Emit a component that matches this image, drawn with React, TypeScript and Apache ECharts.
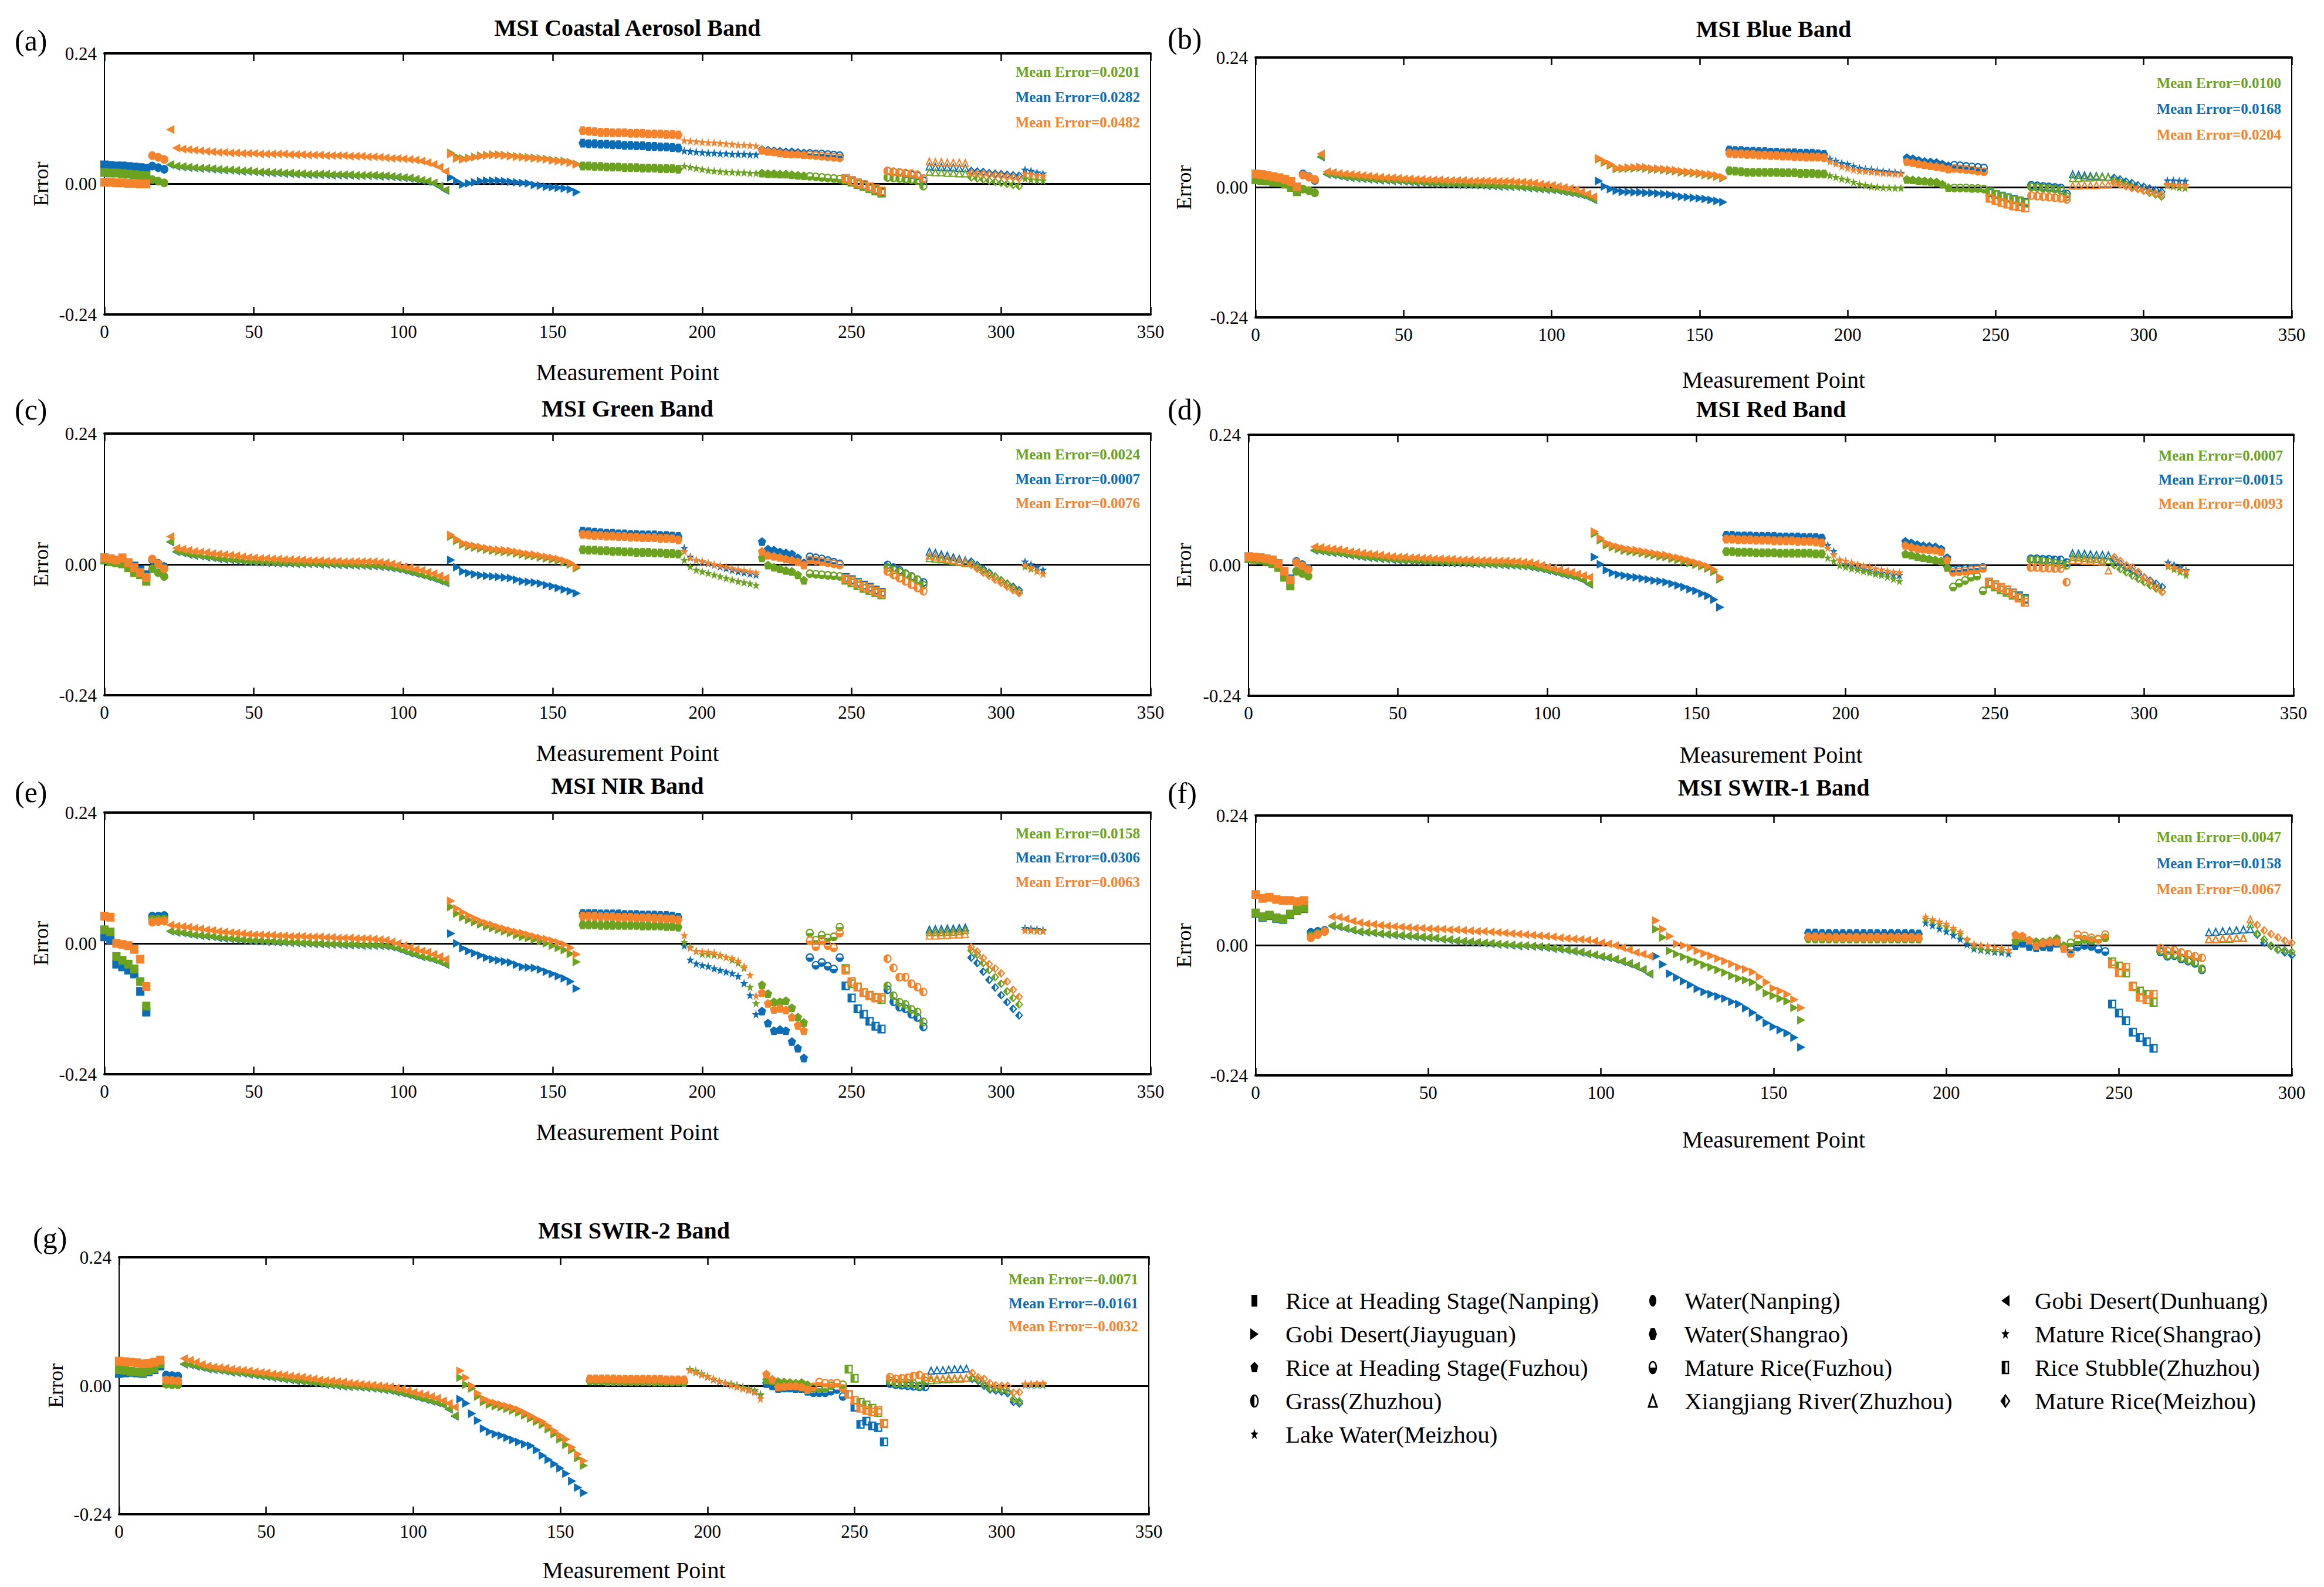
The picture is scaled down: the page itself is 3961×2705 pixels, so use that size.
import React, { useEffect, useRef } from "react";
import * as echarts from "echarts";

// ---------------- DATA (errors in units of 0.001, sampled every 2nd measurement point) ----------------
const X_STEP = 2;

const panelTitles = ["MSI Coastal Aerosol Band", "MSI Blue Band", "MSI Green Band", "MSI Red Band", "MSI NIR Band", "MSI SWIR-1 Band", "MSI SWIR-2 Band"];
const panelLetters = ["(a)", "(b)", "(c)", "(d)", "(e)", "(f)", "(g)"];
const xAxisMax = [350, 350, 350, 350, 350, 300, 350];
const xTickStep = 50;
const yLimit = 0.24;

const meanGreen = [0.0201, 0.0100, 0.0024, 0.0007, 0.0158, 0.0047, -0.0071];
const meanBlue = [0.0282, 0.0168, 0.0007, 0.0015, 0.0306, 0.0158, -0.0161];
const meanOrange = [0.0482, 0.0204, 0.0076, 0.0093, 0.0063, 0.0067, -0.0032];

const siteNames = [
  "Rice at Heading Stage(Nanping)", "Gobi Desert(Jiayuguan)", "Rice at Heading Stage(Fuzhou)", "Grass(Zhuzhou)", "Lake Water(Meizhou)",
  "Water(Nanping)", "Water(Shangrao)", "Mature Rice(Fuzhou)", "Xiangjiang River(Zhuzhou)",
  "Gobi Desert(Dunhuang)", "Mature Rice(Shangrao)", "Rice Stubble(Zhuzhou)", "Mature Rice(Meizhou)",
];
// first measurement point of each site's block, and the site it belongs to
const siteStarts = [0, 15, 22, 115, 159, 194, 220, 236, 248, 262, 275, 289, 307];
const siteOfBlock = [0, 5, 9, 1, 6, 10, 2, 7, 11, 3, 8, 12, 4];

const aGreen = [21,20,20,19,18,17,16,15, 8,5,2,
  36,33,32,31,30,29,29,28,27,26,26,25,24,24,23,22,22,21,21,20,20,19,19,18,18,18,18,17,17,17,17,16,16,16,16,15,15,14,13,12,11,9,7,5,2,-4,-11,
  57,50,47,48,50,52,53,54,54,53,52,51,50,49,48,47,46,44,43,42,40,37,
  33,33,32,32,31,31,31,30,30,30,29,29,29,28,28,28,27,
  33,31,29,27,25,24,23,22,22,21,21,20,20, 20,19,19,18,18,17,16,15, 14,13,12,11,10,9,
  7,3,-1,-5,-9,-13,-17, 12,11,10,9,8,6,-4, 23,22,22,21,21,20,20, 12,10,8,6,4,2,0,-2,-4, 10,8,7,6];
const aBlue = [35,34,33,33,32,31,30,29, 33,30,27,
  35,32,31,30,29,28,28,27,26,25,25,24,23,23,22,21,21,20,20,19,19,18,18,17,17,17,17,16,16,16,16,15,15,15,15,14,14,13,12,11,10,8,6,4,1,-5,-12,
  12,5,-1,1,3,5,6,6,6,5,4,3,2,1,-2,-3,-5,-6,-7,-8,-10,-15,
  75,74,74,73,73,72,72,71,71,70,70,69,69,68,68,67,66,
  61,60,59,58,57,57,56,56,55,55,55,54,54, 63,62,61,60,59,59,58,57, 56,55,55,54,53,52,
  10,6,2,-2,-6,-10,-15, 24,22,21,19,17,15,6, 33,32,32,31,31,30,30, 24,23,22,20,19,18,17,16,15, 26,24,21,19];
const aOrange = [3,3,2,2,1,1,0,0, 52,49,45,
  100,66,64,63,62,61,60,59,58,58,57,57,56,56,56,55,55,55,55,55,54,54,54,53,53,53,52,52,52,52,51,51,51,50,50,49,48,47,47,46,45,44,42,39,36,31,23,
  55,47,45,47,49,51,52,53,53,52,51,50,49,48,47,46,45,43,42,41,39,36,
  98,97,96,95,95,94,94,94,93,93,93,92,92,92,91,91,90,
  80,79,78,77,76,76,75,74,73,72,72,71,70, 62,60,59,57,56,55,55,54, 53,52,51,50,49,48,
  10,6,2,-1,-5,-9,-13, 24,22,21,20,19,17,10, 42,41,41,40,40,40,39, 20,19,18,17,16,15,13,12,10, 19,18,16,15];

const bGreen = [14,13,12,10,9,6,0,-8, -3,-6,-10,
  57,25,24,22,20,19,18,17,16,15,14,14,13,13,12,11,10,10,9,8,8,7,7,6,6,6,5,5,4,4,3,3,2,2,1,0,-1,-2,-3,-4,-5,-7,-9,-11,-13,-17,-22,
  52,46,41,34,34,35,35,36,35,33,33,32,31,30,28,27,26,25,23,22,20,17,
  31,30,29,28,28,28,28,28,28,27,27,27,26,26,26,25,25,
  22,19,16,14,10,6,4,2,1,0,0,-1,-1, 15,14,13,12,11,10,6,0, -1,-1,-1,-2,-2,-3,
  -8,-13,-17,-20,-23,-26,-29, 1,0,-1,-2,-3,-5,-17, 18,18,19,19,20,20,20, 13,10,6,2,-2,-6,-10,-13,-17, 4,2,0,-1];
const bBlue = [18,17,16,14,13,12,4,-1, 25,20,13,
  56,24,23,21,19,18,17,16,15,14,13,13,12,12,11,10,9,9,8,7,7,6,6,5,5,5,4,4,3,3,2,2,1,1,0,-1,-2,-3,-4,-5,-6,-8,-10,-12,-14,-18,-23,
  12,2,-3,-6,-8,-8,-9,-9,-10,-10,-11,-12,-13,-15,-17,-18,-19,-20,-21,-23,-25,-27,
  69,68,68,67,67,66,66,65,65,64,64,64,63,63,63,62,61,
  53,49,45,43,39,36,34,33,31,30,29,28,27, 55,53,50,48,47,46,43,40, 41,40,39,38,37,36,
  -10,-13,-16,-19,-22,-25,-27, 4,3,2,1,0,-1,-12, 25,24,23,22,22,21,20, 18,15,11,8,4,1,-2,-5,-8, 13,13,12,12];
const bOrange = [25,24,22,20,18,15,11,1, 23,19,15,
  62,29,28,26,25,24,23,22,21,20,19,18,18,17,16,16,15,15,14,14,14,13,13,13,13,12,12,12,12,12,11,11,11,10,10,9,8,6,5,4,2,0,-2,-4,-8,-12,-17,
  54,48,43,36,36,37,37,38,37,35,35,34,33,32,30,29,28,27,25,24,22,19,
  63,62,62,61,61,60,60,59,59,58,58,57,57,56,56,56,55,
  48,44,39,36,33,31,30,29,28,27,26,25,25, 48,46,44,42,40,39,37,34, 35,34,33,32,30,29,
  -20,-24,-28,-31,-34,-36,-38, -15,-16,-17,-18,-19,-20,-22, 4,4,5,5,5,6,6, 8,5,2,-1,-3,-6,-8,-11,-13, 6,5,5,4];

const cGreen = [8,5,3,1,-6,-15,-19,-31, -8,-15,-22,
  42,24,22,19,17,16,14,13,11,10,9,8,7,6,5,5,4,4,3,3,3,2,2,2,2,1,1,1,0,0,0,-1,-1,-2,-2,-3,-4,-6,-8,-10,-13,-16,-19,-22,-25,-29,-33,
  51,43,36,33,31,29,27,25,24,23,22,20,18,16,15,13,11,9,7,4,0,-7,
  27,26,26,25,25,24,24,23,23,22,22,22,21,21,20,20,19,
  8,-4,-10,-13,-16,-19,-22,-25,-28,-31,-33,-35,-38, 12,-1,-5,-8,-11,-13,-19,-29, -17,-18,-19,-20,-21,-22,
  -29,-34,-39,-44,-48,-52,-56, -6,-10,-14,-18,-23,-28,-38, 12,11,10,8,7,5,3, 1,-5,-11,-17,-23,-29,-36,-43,-51, -4,-8,-12,-17];
const cBlue = [12,10,8,5,3,-3,-10,-19, 8,2,-4,
  41,23,21,18,16,15,13,12,10,9,8,7,6,5,4,4,3,3,2,2,2,1,1,1,1,0,0,0,-1,-1,-1,-2,-2,-3,-3,-4,-5,-7,-9,-11,-14,-17,-20,-23,-26,-30,-34,
  8,-5,-13,-16,-18,-20,-21,-22,-23,-24,-25,-28,-31,-32,-33,-35,-38,-40,-43,-46,-49,-53,
  61,60,59,58,57,57,56,56,55,55,54,54,54,53,53,52,51,
  30,14,8,5,2,-1,-4,-7,-10,-13,-15,-17,-19, 42,28,26,23,21,19,12,3, 14,12,10,7,4,1,
  -24,-28,-33,-38,-42,-47,-51, -1,-6,-11,-17,-22,-28,-33, 24,22,19,17,14,11,8, 5,-1,-8,-15,-22,-29,-35,-41,-47, 5,0,-5,-10];
const cOrange = [12,10,8,12,3,-6,-15,-24, 10,1,-8,
  51,30,28,26,24,23,22,20,19,18,17,16,14,13,12,11,11,10,10,9,9,8,8,7,7,7,6,6,6,5,5,5,5,5,5,4,3,1,-1,-4,-6,-9,-11,-14,-17,-21,-25,
  54,46,39,36,34,32,30,28,27,26,25,23,21,19,18,16,14,12,10,7,3,-4,
  55,54,53,53,52,52,51,51,50,50,49,49,49,48,48,47,45,
  24,12,8,6,3,0,-2,-4,-7,-9,-11,-13,-15, 24,17,15,13,10,8,5,-1, 8,7,5,3,1,-1,
  -26,-30,-35,-40,-44,-49,-53, -13,-19,-25,-31,-37,-43,-49, 17,15,13,11,9,7,5, -1,-8,-15,-21,-28,-34,-41,-47,-53, -1,-6,-12,-17];

const dGreen = [12,11,10,7,3,-4,-22,-38, -11,-15,-20,
  28,27,25,24,23,21,19,18,16,15,14,13,12,11,10,9,9,8,8,7,7,6,6,5,5,5,4,4,3,3,2,2,1,1,0,-1,-2,-4,-6,-9,-11,-14,-17,-19,-22,-27,-34,
  58,46,37,33,30,27,25,24,22,20,18,16,15,12,10,7,4,1,-2,-6,-12,-26,
  25,25,24,24,24,23,23,23,23,22,22,22,22,22,22,21,21,
  14,8,0,-3,-6,-8,-11,-13,-16,-18,-21,-25,-29, 21,19,16,14,12,10,8,-4, -40,-33,-28,-22,-20,-47,
  -34,-40,-45,-50,-55,-59,-63, 10,9,8,6,4,2,0, 16,15,14,13,12,11,10, 0,-7,-13,-19,-25,-31,-37,-43,-49, -2,-7,-12,-18];
const dBlue = [14,13,12,10,7,3,-13,-25, 7,1,-6,
  27,26,24,23,22,20,18,17,15,14,13,12,11,10,9,8,8,7,7,6,6,5,5,4,4,4,3,3,2,2,1,1,0,0,-1,-2,-3,-5,-7,-10,-12,-15,-18,-20,-23,-28,-35,
  15,2,-9,-14,-17,-19,-21,-22,-24,-26,-28,-29,-31,-34,-37,-40,-44,-47,-52,-56,-63,-77,
  55,55,54,54,54,53,53,53,53,52,52,52,52,51,51,51,50,
  37,26,10,2,0,-3,-6,-9,-12,-14,-15,-17,-18, 44,41,38,36,35,34,30,14, -9,-8,-7,-6,-5,-4,
  -31,-36,-41,-46,-51,-56,-61, 12,12,11,11,10,10,5, 23,22,22,21,20,20,19, 10,3,-4,-10,-16,-22,-28,-34,-40, 5,1,-4,-9];
const dOrange = [16,15,14,12,10,3,-11,-27, 5,-1,-8,
  34,33,31,30,29,27,25,24,22,21,20,19,17,16,15,15,14,14,13,13,12,12,11,11,10,10,10,9,9,9,8,8,8,7,7,6,5,3,0,-3,-6,-8,-11,-13,-16,-19,-22,
  62,50,41,37,34,31,29,28,26,24,22,20,19,16,14,11,8,5,2,-2,-8,-22,
  48,48,47,47,47,46,46,46,45,45,45,45,44,44,44,43,41,
  32,20,10,8,5,2,-1,-3,-6,-8,-10,-12,-13, 37,34,31,30,29,28,25,10, -13,-12,-11,-9,-8,-6,
  -31,-36,-41,-45,-52,-60,-68, -4,-4,-5,-5,-6,-6,-31, 10,10,9,9,8,7,-9, 15,8,0,-4,-12,-22,-30,-40,-49, 0,-4,-8,-11];

const eGreen = [25,21,-24,-31,-38,-47,-70,-115, 44,44,45,
  23,21,20,18,16,15,14,13,11,10,9,8,7,6,5,5,4,4,3,3,2,2,1,1,0,0,-1,-1,-1,-2,-2,-2,-3,-3,-3,-3,-4,-6,-9,-13,-17,-20,-24,-26,-29,-33,-38,
  67,55,48,43,39,35,31,28,25,22,19,15,12,10,7,4,0,-4,-8,-12,-19,-34,
  34,34,34,33,33,33,33,33,33,33,32,32,32,32,31,31,30,
  2,-6,-14,-19,-20,-21,-22,-25,-30,-36,-45,-80,-110, -76,-92,-107,-107,-105,-118,-135,-145, 19,6,15,10,12,30,
  -46,-74,-80,-90,-95,-99,-103, -78,-96,-108,-112,-121,-126,-144, 21,21,21,22,22,23,25, -13,-21,-36,-49,-62,-74,-88,-100,-112, 25,24,24,23];
const eBlue = [12,7,-38,-43,-49,-56,-88,-126, 50,50,51,
  22,20,19,17,15,14,13,12,10,9,8,7,6,5,4,4,3,3,2,2,1,1,0,0,-1,-1,-2,-2,-2,-3,-3,-3,-4,-4,-4,-4,-5,-7,-10,-14,-18,-21,-25,-27,-30,-34,-39,
  18,0,-9,-14,-18,-22,-26,-29,-31,-33,-35,-39,-43,-44,-45,-48,-52,-56,-60,-64,-70,-83,
  55,55,55,54,54,54,54,53,53,53,52,52,52,51,51,50,48,
  -4,-30,-37,-40,-42,-46,-49,-52,-55,-60,-73,-95,-130, -124,-146,-160,-158,-160,-180,-192,-210, -26,-40,-35,-42,-47,-26,
  -78,-100,-120,-130,-143,-152,-157, -85,-107,-117,-120,-130,-136,-153, 26,27,27,28,28,29,30, -26,-36,-52,-67,-81,-95,-108,-120,-132, 28,27,26,25];
const eOrange = [50,48,0,-2,-4,-11,-29,-79, 39,40,41,
  34,32,31,30,28,27,25,24,22,21,20,19,18,17,16,16,15,15,14,14,13,13,13,12,12,12,11,11,10,10,10,9,9,9,8,7,6,3,0,-4,-7,-11,-14,-16,-20,-24,-29,
  78,64,57,51,46,41,37,34,30,27,24,21,19,16,13,10,8,5,2,-2,-8,-20,
  50,50,50,49,49,49,48,48,48,47,47,47,46,46,45,45,43,
  15,-8,-14,-15,-16,-17,-21,-25,-27,-32,-42,-58,-96, -90,-110,-121,-119,-122,-135,-150,-160, 5,-6,5,-4,-8,19,
  -49,-70,-80,-90,-96,-100,-99, -28,-45,-62,-62,-74,-80,-89, 15,15,16,16,17,17,18, -7,-15,-27,-38,-46,-55,-70,-85,-98, 24,24,23,23];

const fGreen = [60,53,56,51,49,58,65,69, 18,22,26,
  37,35,32,29,26,25,24,22,21,20,19,18,17,16,15,14,12,11,9,8,7,6,5,4,3,2,1,0,0,-1,-2,-3,-5,-6,-8,-10,-12,-15,-17,-20,-22,-25,-29,-33,-38,-44,-52,
  30,15,-10,-16,-21,-26,-31,-36,-40,-45,-50,-56,-61,-64,-68,-77,-88,-93,-98,-103,-115,-138,
  13,12,12,12,12,12,12,12,12,12,12,12,12,12,12,12,12,
  49,45,40,35,28,21,10,-2,-6,-8,-9,-9,-9, 9,14,10,7,7,9,13,0, 5,8,11,9,12,14,
  -30,-38,-51,-75,-84,-90,-105, -10,-18,-17,-23,-27,-31,-43, 12,12,13,13,14,14,40, 22,11,0,-7,-9,-12];
const fBlue = [59,52,55,50,48,57,64,68, 24,26,28,
  36,34,31,28,25,24,23,21,20,19,18,17,16,15,14,13,11,10,8,7,6,5,4,3,2,1,0,-1,-1,-2,-3,-4,-6,-7,-9,-11,-13,-16,-18,-21,-23,-26,-30,-34,-39,-45,-53,
  -20,-35,-52,-59,-66,-73,-80,-86,-90,-94,-98,-104,-108,-116,-124,-133,-143,-150,-156,-162,-170,-188,
  23,23,22,22,22,22,22,22,22,22,22,22,22,22,22,22,21,
  42,37,31,26,19,12,2,-6,-8,-10,-12,-13,-15, 0,4,-2,-4,-2,-3,4,-5, -7,-3,0,-2,-7,-11,
  -108,-125,-139,-160,-170,-178,-190, -12,-20,-19,-25,-29,-33,-45, 25,26,27,28,29,30,31, 20,5,-1,-8,-13,-18];
const fOrange = [94,87,89,85,83,83,81,83, 14,20,26,
  53,52,49,45,42,40,39,37,36,35,34,33,32,32,31,30,30,29,29,28,27,26,26,25,24,23,22,21,20,19,18,17,16,14,13,12,11,10,8,5,3,0,-4,-8,-13,-16,-20,
  46,30,17,3,0,-4,-10,-15,-19,-24,-29,-34,-40,-44,-49,-58,-68,-79,-84,-90,-100,-115,
  16,16,16,15,15,15,15,15,15,15,15,15,15,15,15,15,14,
  53,48,44,40,32,25,12,3,1,-1,-3,-5,-8, 20,18,10,0,5,7,7,-5, -15,20,18,14,11,20,
  -34,-50,-40,-76,-96,-100,-90, -5,-10,-9,-13,-16,-20,-23, 13,13,14,14,15,15,49, 38,28,21,15,9,5];

const gGreen = [30,29,27,26,25,28,32,41, 3,2,2,
  41,40,37,35,32,31,30,28,26,25,24,22,21,19,18,16,15,13,12,10,9,8,6,5,3,2,1,0,-1,-1,-2,-3,-4,-5,-7,-8,-11,-13,-16,-19,-22,-25,-28,-31,-35,-43,-56,
  15,2,-5,-20,-30,-35,-38,-40,-43,-46,-50,-55,-61,-67,-73,-81,-90,-100,-110,-120,-135,-149,
  9,9,9,8,8,8,8,8,8,8,8,7,7,7,7,7,6,
  31,28,23,18,13,9,6,4,1,-2,-5,-8,-16, 11,9,8,7,6,5,6,2, -5,-5,-5,0,5,2,
  31,14,-31,-36,-42,-50,-71, 9,5,5,5,4,0,9, 11,12,13,13,14,14,15, 15,11,3,-5,-6,-8,-10,-25,-29, 3,3,3,3];
const gBlue = [23,24,25,24,23,26,30,37, 20,19,18,
  40,39,36,34,31,30,29,27,25,24,23,21,20,18,17,15,14,12,11,9,8,7,5,4,2,1,0,-1,-2,-2,-3,-4,-5,-6,-8,-9,-12,-14,-17,-20,-23,-26,-29,-32,-36,-44,-57,
  -25,-33,-52,-65,-80,-86,-90,-93,-97,-101,-105,-109,-112,-120,-130,-138,-146,-154,-164,-178,-190,-200,
  10,10,10,10,10,9,9,9,9,9,9,9,9,8,8,8,8,
  30,27,22,17,12,8,5,3,0,-3,-6,-9,-17, 4,0,-5,-4,-4,-5,-5,-10, -13,-13,-13,-10,-7,-20,
  -16,-40,-72,-66,-75,-78,-105, 4,2,1,0,-1,-2,-2, 29,30,30,31,32,32,33, 13,9,0,-7,-9,-11,-14,-30,-33, 2,2,2,2];
const gOrange = [46,45,44,43,41,42,44,48, 11,10,9,
  51,48,44,40,37,35,34,33,31,30,29,28,26,25,24,22,21,20,18,17,16,14,13,11,10,9,8,7,5,4,3,2,1,0,-1,-2,-4,-6,-9,-12,-15,-17,-20,-23,-28,-33,-40,
  28,15,0,-14,-24,-29,-32,-35,-38,-41,-45,-50,-56,-62,-67,-75,-84,-93,-100,-115,-128,-140,
  13,13,13,13,13,12,12,12,12,12,12,12,12,11,11,11,11,
  29,25,21,17,13,9,5,1,-2,-5,-8,-12,-24, 22,12,-2,-1,0,0,-2,-7, -2,7,5,4,5,-5,
  -16,-27,-42,-46,-49,-46,-70, 16,13,14,15,18,20,16, 15,15,15,16,16,16,16, 24,16,13,5,1,0,0,-13,-12, 4,4,5,5];

const greenSeries = [aGreen, bGreen, cGreen, dGreen, eGreen, fGreen, gGreen];
const blueSeries = [aBlue, bBlue, cBlue, dBlue, eBlue, fBlue, gBlue];
const orangeSeries = [aOrange, bOrange, cOrange, dOrange, eOrange, fOrange, gOrange];

// ---------------- STYLE / LAYOUT ----------------
const FONT = '"Liberation Serif", "Times New Roman", serif';
const GREEN = "#6BA320";
const BLUE = "#0B6DB5";
const ORANGE = "#F5832B";

const layout = [
  { grid: { left: 178, top: 91, width: 1783, height: 445 }, titleY: 47, letter: [25, 69], gapX: 78, gapY: 90, meanY: [122, 165, 208] },
  { grid: { left: 2140, top: 98, width: 1766, height: 443 }, titleY: 49, letter: [1990, 66], gapX: 86, gapY: 104, meanY: [141, 185, 229] },
  { grid: { left: 178, top: 739, width: 1783, height: 446 }, titleY: 696, letter: [25, 698], gapX: 78, gapY: 90, meanY: [774, 816, 857] },
  { grid: { left: 2128, top: 741, width: 1781, height: 445 }, titleY: 697, letter: [1990, 698], gapX: 80, gapY: 92, meanY: [776, 817, 858] },
  { grid: { left: 178, top: 1385, width: 1783, height: 446 }, titleY: 1339, letter: [25, 1350], gapX: 78, gapY: 90, meanY: [1420, 1461, 1503] },
  { grid: { left: 2140, top: 1390, width: 1766, height: 443 }, titleY: 1342, letter: [1990, 1352], gapX: 89, gapY: 104, meanY: [1426, 1471, 1515] },
  { grid: { left: 203, top: 2143, width: 1755, height: 438 }, titleY: 2097, letter: [56, 2110], gapX: 75, gapY: 90, meanY: [2180, 2221, 2260] },
];

// marker per site (index as in siteNames)
const siteSymbols = [
  "rect",
  "path://M0,0L10,5L0,10Z",
  "path://M5,0L10,3.8L8.1,10L1.9,10L0,3.8Z",
  "path://M5,0A5,5,0,1,1,5,10A5,5,0,1,1,5,0ZM5,1.6L5,8.4A3.4,3.4,0,0,0,5,1.6Z",
  "path://M5,0L6.2,3.6L10,3.6L6.9,5.9L8.1,9.6L5,7.3L1.9,9.6L3.1,5.9L0,3.6L3.8,3.6Z",
  "circle",
  "path://M2.5,0L7.5,0L10,5L7.5,10L2.5,10L0,5Z",
  "path://M5,0A5,5,0,1,1,5,10A5,5,0,1,1,5,0ZM1.6,5L8.4,5A3.4,3.4,0,0,0,1.6,5Z",
  "path://M5,0L10,10L0,10ZM5,3.6L2.2,8.6L7.8,8.6Z",
  "path://M10,0L0,5L10,10Z",
  "path://M5,0L6.2,3.6L10,3.6L6.9,5.9L8.1,9.6L5,7.3L1.9,9.6L3.1,5.9L0,3.6L3.8,3.6Z",
  "path://M0,0L10,0L10,10L0,10ZM5,1.6L5,8.4L8.4,8.4L8.4,1.6Z",
  "path://M5,0L10,5L5,10L0,5ZM5,2L5,8L8,5Z",
];
const legendShapes = ["square", "rtri", "pent", "halfL", "star", "circle", "hex", "halfT", "triO", "ltri", "star", "halfSq", "halfDia"];
const legendColumns = [[0, 1, 2, 3, 4], [5, 6, 7, 8], [9, 10, 11, 12]];
const legendMarkerX = [2138, 2817, 3418];
const legendTextX = [2191, 2871, 3468];
const legendRowY = [2217, 2274, 2331, 2388, 2445];

function symbolFor(x: number): string {
  let b = 0;
  for (let k = 0; k < siteStarts.length; k++) if (x >= siteStarts[k]) b = k;
  return siteSymbols[siteOfBlock[b]];
}

function toPoints(vals: number[]): number[][] {
  return vals.map((v, i) => [i * X_STEP, v / 1000]);
}

function unitPoly(kind: string): number[][] {
  if (kind === "pent") return [[0, -1], [0.95, -0.31], [0.59, 0.81], [-0.59, 0.81], [-0.95, -0.31]];
  if (kind === "hex") return [[-0.5, -1], [0.5, -1], [1, 0], [0.5, 1], [-0.5, 1], [-1, 0]];
  if (kind === "star") {
    const p: number[][] = [];
    for (let k = 0; k < 10; k++) {
      const r = k % 2 === 0 ? 1 : 0.42;
      const a = ((-90 + 36 * k) * Math.PI) / 180;
      p.push([r * Math.cos(a), r * Math.sin(a)]);
    }
    return p;
  }
  return [];
}

function halfEllipse(cx: number, cy: number, rx: number, ry: number, a0: number, a1: number): number[][] {
  const p: number[][] = [];
  for (let k = 0; k <= 16; k++) {
    const a = ((a0 + ((a1 - a0) * k) / 16) * Math.PI) / 180;
    p.push([cx + rx * Math.cos(a), cy + ry * Math.sin(a)]);
  }
  return p;
}

function legendMarker(kind: string, cx: number, cy: number): any[] {
  const w = 7, h = 10;
  const fill = { fill: "#000" };
  const outline = { fill: "#fff", stroke: "#000", lineWidth: 2.5 };
  const scaled = (pts: number[][]) => pts.map(([x, y]) => [cx + x * w, cy + y * h]);
  switch (kind) {
    case "square":
      return [{ type: "rect", shape: { x: cx - 5, y: cy - h, width: 10, height: 2 * h }, style: fill }];
    case "rtri":
      return [{ type: "polygon", shape: { points: [[cx - w, cy - h], [cx + w, cy], [cx - w, cy + h]] }, style: fill }];
    case "ltri":
      return [{ type: "polygon", shape: { points: [[cx + w, cy - h], [cx - w, cy], [cx + w, cy + h]] }, style: fill }];
    case "pent":
    case "hex":
    case "star":
      return [{ type: "polygon", shape: { points: scaled(unitPoly(kind)) }, style: fill }];
    case "circle":
      return [{ type: "ellipse", shape: { cx, cy, rx: w - 1, ry: h }, style: fill }];
    case "halfL":
      return [
        { type: "ellipse", shape: { cx, cy, rx: w - 1, ry: h }, style: outline },
        { type: "polygon", shape: { points: halfEllipse(cx, cy, w - 1, h, 90, 270) }, style: fill },
      ];
    case "halfT":
      return [
        { type: "ellipse", shape: { cx, cy, rx: w - 1, ry: h }, style: outline },
        { type: "polygon", shape: { points: halfEllipse(cx, cy, w - 1, h, 0, 180) }, style: fill },
      ];
    case "triO":
      return [{ type: "polygon", shape: { points: [[cx, cy - h], [cx + w, cy + h], [cx - w, cy + h]] }, style: { fill: "#fff", stroke: "#000", lineWidth: 3 } }];
    case "halfSq":
      return [
        { type: "rect", shape: { x: cx - 5, y: cy - h, width: 10, height: 2 * h }, style: outline },
        { type: "rect", shape: { x: cx - 5, y: cy - h, width: 5, height: 2 * h }, style: fill },
      ];
    case "halfDia":
      return [
        { type: "polygon", shape: { points: [[cx, cy - h], [cx + w, cy], [cx, cy + h], [cx - w, cy]] }, style: outline },
        { type: "polygon", shape: { points: [[cx, cy - h], [cx, cy + h], [cx - w, cy]] }, style: fill },
      ];
    default:
      return [];
  }
}

function buildOption(): any {
  const grid: any[] = [];
  const xAxis: any[] = [];
  const yAxis: any[] = [];
  const series: any[] = [];
  const title: any[] = [];
  const graphic: any[] = [];

  layout.forEach((L, i) => {
    grid.push({ ...L.grid });
    const xMax = xAxisMax[i];
    xAxis.push({
      type: "value", gridIndex: i, min: 0, max: xMax, interval: xTickStep, position: "bottom",
      axisLine: { show: true, onZero: false, lineStyle: { color: "#000", width: 4 } },
      axisTick: { show: true, inside: true, length: 13, lineStyle: { color: "#000", width: 2.5 } },
      axisLabel: { margin: 14, color: "#000", fontSize: 31, fontFamily: FONT },
      splitLine: { show: false },
      name: "Measurement Point", nameLocation: "middle", nameGap: L.gapX,
      nameTextStyle: { color: "#000", fontSize: 40, fontFamily: FONT },
    });
    xAxis.push({
      type: "value", gridIndex: i, min: 0, max: xMax, interval: xTickStep, position: "top",
      axisLine: { show: true, onZero: false, lineStyle: { color: "#000", width: 4 } },
      axisTick: { show: true, inside: true, length: 13, lineStyle: { color: "#000", width: 2.5 } },
      axisLabel: { show: false }, splitLine: { show: false },
    });
    yAxis.push({
      type: "value", gridIndex: i, min: -yLimit, max: yLimit, interval: yLimit, position: "left",
      axisLine: { show: true, onZero: false, lineStyle: { color: "#000", width: 2 } },
      axisTick: { show: false },
      axisLabel: { margin: 13, color: "#000", fontSize: 31, fontFamily: FONT, formatter: (v: number) => v.toFixed(2) },
      splitLine: { show: true, lineStyle: { color: "#000", width: 3 } },
      name: "Error", nameLocation: "middle", nameGap: L.gapY,
      nameTextStyle: { color: "#000", fontSize: 36, fontFamily: FONT },
    });
    yAxis.push({
      type: "value", gridIndex: i, min: -yLimit, max: yLimit, interval: yLimit, position: "right",
      axisLine: { show: true, onZero: false, lineStyle: { color: "#000", width: 2 } },
      axisTick: { show: false }, axisLabel: { show: false }, splitLine: { show: false },
    });

    const sets: [number[], string][] = [
      [blueSeries[i], BLUE],
      [greenSeries[i], GREEN],
      [orangeSeries[i], ORANGE],
    ];
    sets.forEach(([vals, color]) => {
      series.push({
        type: "scatter", xAxisIndex: 2 * i, yAxisIndex: 2 * i,
        data: toPoints(vals),
        symbol: (v: number[]) => symbolFor(v[0]),
        symbolSize: [14, 15],
        itemStyle: { color, opacity: 1 },
        silent: true,
      });
    });

    const cx = L.grid.left + L.grid.width / 2;
    title.push({
      text: panelTitles[i], left: cx, top: L.titleY, textAlign: "center", textVerticalAlign: "middle", padding: 0,
      textStyle: { color: "#000", fontSize: 40, fontWeight: "bold", fontFamily: FONT },
    });

    graphic.push({
      type: "text", x: L.letter[0], y: L.letter[1],
      style: { text: panelLetters[i], fill: "#000", font: `50px ${FONT}`, textAlign: "left", align: "left", textVerticalAlign: "middle", verticalAlign: "middle" },
    });
    const right = L.grid.left + L.grid.width - 18;
    const means: [number, string][] = [[meanGreen[i], GREEN], [meanBlue[i], BLUE], [meanOrange[i], ORANGE]];
    means.forEach(([m, color], k) => {
      graphic.push({
        type: "text", x: right, y: L.meanY[k],
        style: { text: `Mean Error=${m.toFixed(4)}`, fill: color, font: `bold 25px ${FONT}`, textAlign: "right", align: "right", textVerticalAlign: "middle", verticalAlign: "middle" },
      });
    });
  });

  legendColumns.forEach((col, c) => {
    col.forEach((site, r) => {
      const y = legendRowY[r];
      legendMarker(legendShapes[site], legendMarkerX[c], y).forEach((el) => graphic.push(el));
      graphic.push({
        type: "text", x: legendTextX[c], y,
        style: { text: siteNames[site], fill: "#000", font: `41px ${FONT}`, textAlign: "left", align: "left", textVerticalAlign: "middle", verticalAlign: "middle" },
      });
    });
  });

  return { animation: false, backgroundColor: "#fff", title, grid, xAxis, yAxis, series, graphic };
}

export default function App() {
  const ref = useRef<HTMLDivElement>(null);
  useEffect(() => {
    if (!ref.current) return;
    const chart = echarts.init(ref.current, undefined, { renderer: "svg" });
    chart.setOption(buildOption());
    return () => chart.dispose();
  }, []);
  return <div ref={ref} style={{ position: "absolute", left: 0, top: 0, width: 3961, height: 2705 }} />;
}
